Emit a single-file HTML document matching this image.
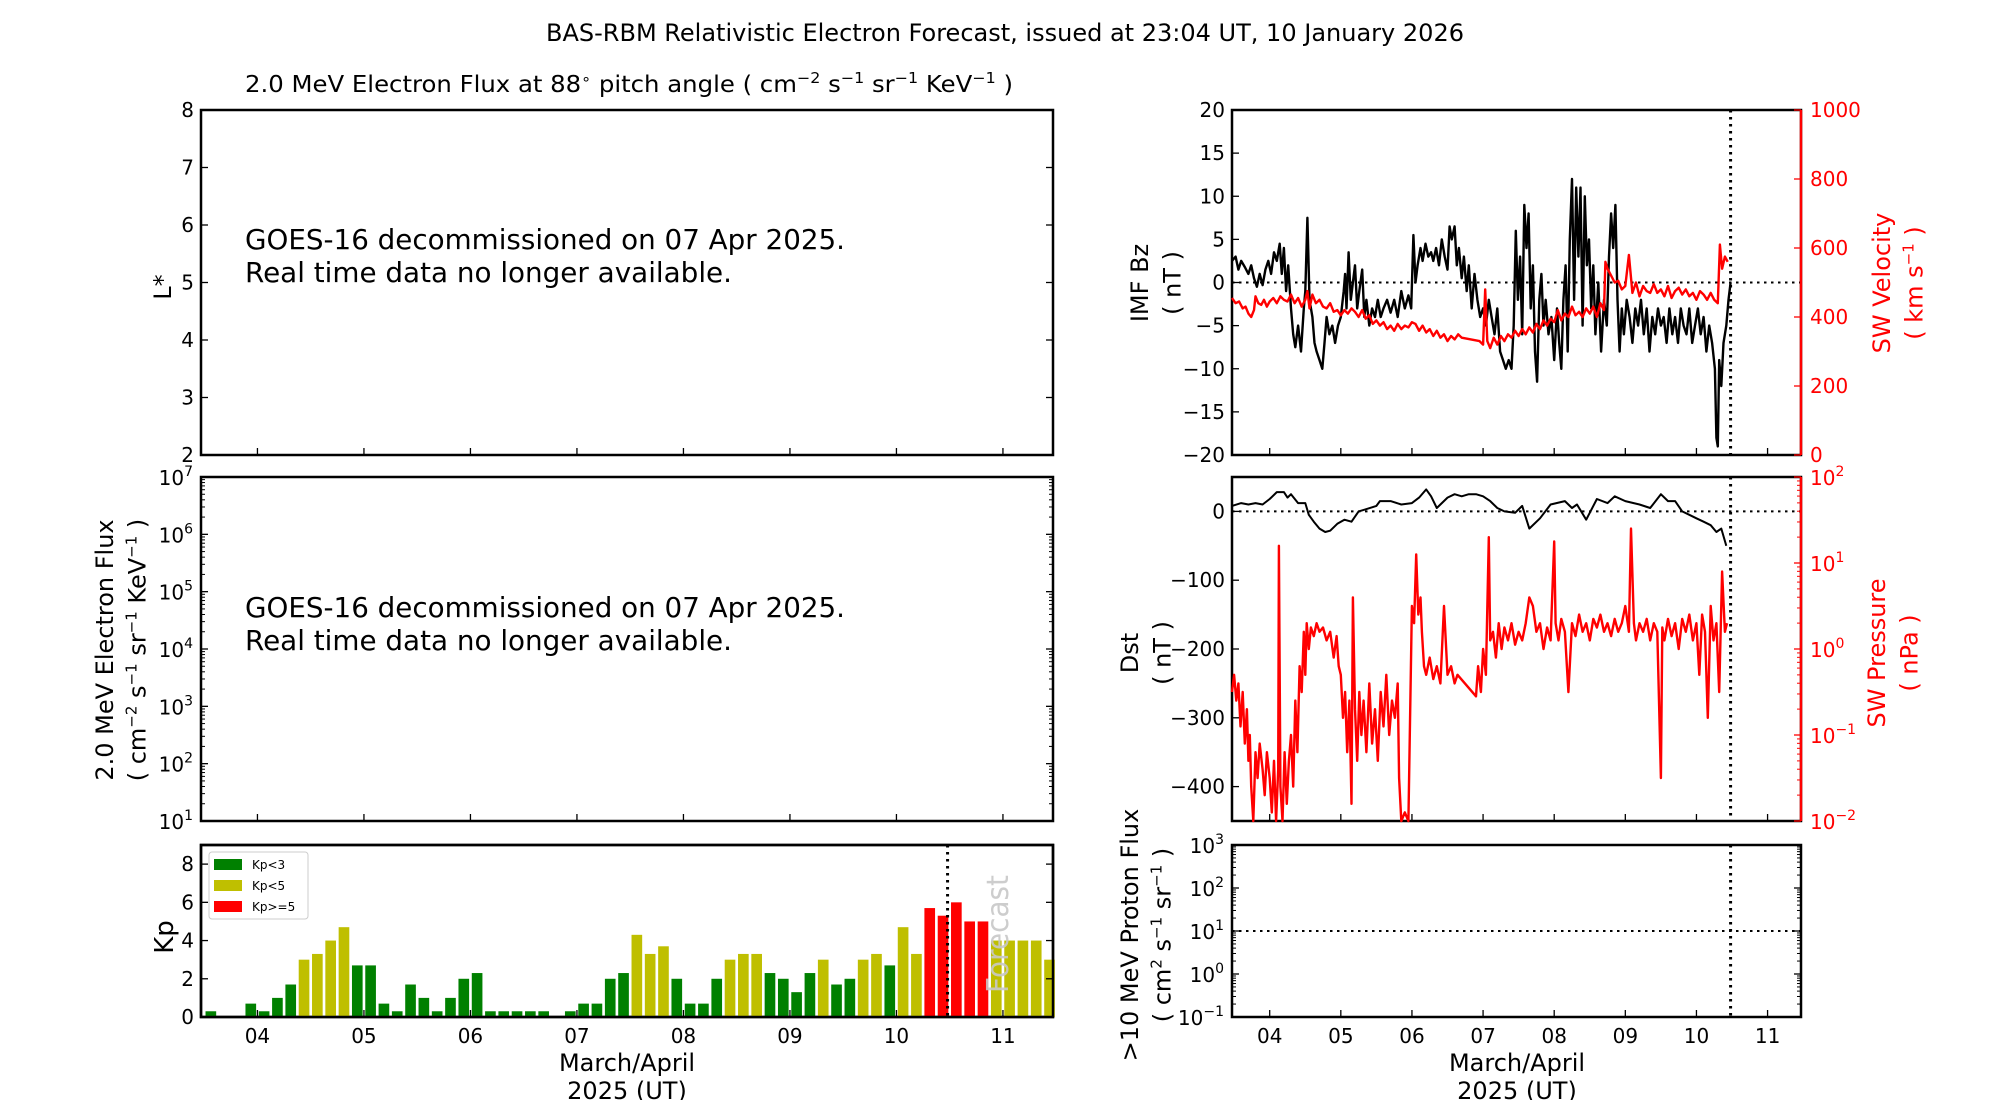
<!DOCTYPE html>
<html><head><meta charset="utf-8"><style>
html,body{margin:0;padding:0;background:#fff;}
svg{display:block;font-family:"DejaVu Sans","Liberation Sans",sans-serif;}
</style></head><body>
<svg id="fig" width="2000" height="1100" viewBox="0 0 2000 1100" xmlns="http://www.w3.org/2000/svg">
<rect width="2000" height="1100" fill="#fff"/>
<text x="1005" y="41" font-size="24" text-anchor="middle" textLength="918" lengthAdjust="spacingAndGlyphs">BAS-RBM Relativistic Electron Forecast, issued at 23:04 UT, 10 January 2026</text>
<text x="245" y="92" font-size="23" textLength="768" lengthAdjust="spacingAndGlyphs">2.0 MeV Electron Flux at 88<tspan dy="-8" font-size="15">∘</tspan><tspan dy="8"> pitch angle ( cm</tspan><tspan dy="-9" font-size="15">−2</tspan><tspan dy="9"> s</tspan><tspan dy="-9" font-size="15">−1</tspan><tspan dy="9"> sr</tspan><tspan dy="-9" font-size="15">−1</tspan><tspan dy="9"> KeV</tspan><tspan dy="-9" font-size="15">−1</tspan><tspan dy="9"> )</tspan></text>
<g id="layer"></g>
</svg>
<script>
// ---- Kp data (3-hour bins starting 3.5) ----
const kpValues = [0.3,0,0,0.7,0.3,1,1.7,3,3.3,4,4.7,2.7,2.7,0.7,0.3,1.7,1,0.3,1,2,2.3,0.3,0.3,0.3,0.3,0.3,0,0.3,0.7,0.7,2,2.3,4.3,3.3,3.7,2,0.7,0.7,2,3,3.3,3.3,2.3,2,1.3,2.3,3,1.7,2,3,3.3,2.7,4.7,3.3,5.7,5.3,6,5,5,4,4,4,4,3];
const kpStart = 3.5;
// ---- IMF Bz ----
const bzTimes = [3.47,3.52,3.56,3.6,3.65,3.7,3.74,3.78,3.82,3.86,3.9,3.94,3.98,4.02,4.06,4.1,4.14,4.17,4.2,4.23,4.26,4.3,4.33,4.36,4.4,4.44,4.48,4.5,4.53,4.56,4.6,4.63,4.66,4.7,4.74,4.77,4.8,4.84,4.88,4.92,4.96,5.0,5.04,5.06,5.08,5.11,5.14,5.17,5.2,5.23,5.26,5.3,5.33,5.36,5.4,5.44,5.48,5.52,5.56,5.6,5.65,5.7,5.75,5.8,5.85,5.9,5.95,5.99,6.02,6.05,6.08,6.12,6.15,6.19,6.23,6.27,6.3,6.34,6.38,6.42,6.46,6.5,6.53,6.56,6.6,6.63,6.66,6.7,6.73,6.77,6.8,6.84,6.88,6.92,6.96,7.0,7.04,7.08,7.12,7.16,7.2,7.24,7.28,7.32,7.36,7.4,7.43,7.46,7.49,7.52,7.55,7.58,7.61,7.64,7.67,7.7,7.73,7.76,7.79,7.82,7.85,7.88,7.92,7.96,8.0,8.04,8.07,8.1,8.13,8.16,8.19,8.22,8.25,8.28,8.31,8.34,8.37,8.4,8.43,8.46,8.49,8.52,8.55,8.58,8.62,8.66,8.7,8.74,8.77,8.8,8.83,8.86,8.89,8.92,8.95,8.98,9.02,9.06,9.1,9.14,9.18,9.22,9.26,9.3,9.34,9.38,9.42,9.46,9.5,9.54,9.58,9.62,9.66,9.7,9.74,9.78,9.82,9.86,9.9,9.94,9.98,10.02,10.06,10.1,10.14,10.18,10.22,10.26,10.28,10.3,10.32,10.35,10.38,10.42,10.45,10.48];
const bzValues = [2.5,3,1.5,2.5,1.8,1,2,0.5,-0.5,1,-0.3,1.5,2.5,1,3.5,2.5,4.5,1,4,-1,2,-3,-6,-7.5,-5,-8,-3,-1,7.5,-2,-4,-7,-8,-9,-10,-7,-4,-6,-5,-7,-5,-4,-1,1,-3,3.5,-2,0,2,-3,-1,1.5,-4,-2,-5,-3,-4,-2,-4,-3,-2,-3.5,-2,-4,-1,-3,-1.5,-3,5.5,0,2,4,2.5,4.5,3,3.5,2.5,4,2,5,3,1.5,6.5,5,6.5,2,4,0.5,3,-1,2,-3,1,-2,-4,-3,-5,-2,-4,-6,-3,-8,-9,-10,-9,-10,-5,6,-2,3,-6,9,4,8,-3,2,-8,-11.5,-2,1,-5,-2,-6,-4,-9,-3,-7,-10,-2,2,-8,5,12,-2,11,3,11,-5,10,2,5,-3,2,-6,0,-8,-2,-5,3,8,4,9,-2,-8,-3,-6,-2,-4,-7,-3,-5,-2,-6,-3,-8,-4,-6,-3,-5,-4,-7,-3,-6,-4,-7,-3,-5,-6,-3,-7,-5,-3,-6,-4,-8,-5,-7,-10,-18,-19,-9,-12,-7,-5,-2,0];
// ---- SW velocity ----
const vTimes = [3.47,3.52,3.57,3.62,3.66,3.7,3.74,3.78,3.8,3.84,3.88,3.92,3.96,4.0,4.05,4.1,4.15,4.2,4.25,4.3,4.35,4.4,4.45,4.5,4.53,4.56,4.6,4.65,4.7,4.75,4.8,4.85,4.9,4.95,5.0,5.05,5.1,5.15,5.2,5.25,5.3,5.35,5.4,5.45,5.5,5.55,5.6,5.65,5.7,5.75,5.8,5.85,5.9,5.95,6.0,6.05,6.1,6.15,6.2,6.25,6.3,6.35,6.4,6.45,6.5,6.55,6.6,6.65,6.7,6.95,7.0,7.03,7.06,7.1,7.15,7.2,7.25,7.3,7.35,7.4,7.45,7.5,7.55,7.6,7.65,7.7,7.75,7.8,7.85,7.9,7.95,8.0,8.05,8.1,8.15,8.2,8.25,8.3,8.35,8.4,8.45,8.5,8.55,8.6,8.65,8.7,8.72,8.75,8.8,8.85,8.9,8.95,9.0,9.05,9.1,9.15,9.2,9.25,9.3,9.35,9.4,9.45,9.5,9.55,9.6,9.65,9.7,9.75,9.8,9.85,9.9,9.95,10.0,10.05,10.1,10.15,10.2,10.25,10.3,10.33,10.36,10.4,10.44,10.48];
const vValues = [455,440,445,425,430,410,400,420,460,440,435,450,430,445,455,440,460,450,445,465,440,455,430,450,475,425,465,440,450,430,425,440,415,420,405,420,410,425,415,400,420,395,405,380,390,375,385,365,375,360,380,365,375,370,385,380,360,375,355,365,345,360,340,350,330,345,335,350,340,330,320,480,330,310,340,320,345,330,350,340,360,345,365,350,370,355,380,365,390,375,395,385,420,390,410,400,430,405,415,400,425,410,430,400,440,420,560,540,520,500,505,480,490,580,470,500,460,490,475,470,495,470,480,460,490,455,475,485,465,480,460,470,450,475,465,450,470,450,440,610,540,575,560];
// ---- Dst ----
const dstTimes = [3.47,3.6,3.7,3.8,3.9,4.0,4.1,4.2,4.25,4.3,4.4,4.5,4.55,4.62,4.7,4.78,4.85,4.95,5.05,5.15,5.25,5.35,5.5,5.55,5.7,5.85,6.0,6.1,6.2,6.27,6.35,6.5,6.6,6.7,6.8,6.9,7.0,7.1,7.2,7.3,7.45,7.55,7.65,7.8,7.95,8.15,8.25,8.32,8.45,8.6,8.75,8.85,9.0,9.2,9.35,9.5,9.6,9.7,9.8,9.9,10.0,10.1,10.2,10.28,10.35,10.42];
const dstValues = [8,12,10,12,10,18,28,28,20,25,12,12,-5,-15,-25,-30,-28,-18,-12,-15,0,3,8,15,15,10,12,20,32,22,5,20,25,22,25,25,22,15,5,0,-2,8,-25,-10,10,15,5,10,-12,18,12,22,15,10,5,25,15,15,0,-5,-10,-15,-20,-30,-25,-50];
// ---- SW pressure (log10 nPa) ----
const pTimes = [3.47,3.5,3.53,3.56,3.59,3.62,3.65,3.68,3.7,3.72,3.74,3.77,3.8,3.83,3.86,3.9,3.93,3.96,4.0,4.03,4.06,4.09,4.12,4.13,4.15,4.18,4.21,4.24,4.27,4.3,4.33,4.36,4.39,4.42,4.45,4.48,4.5,4.52,4.55,4.58,4.62,4.66,4.7,4.75,4.8,4.85,4.9,4.94,4.97,5.0,5.03,5.06,5.09,5.12,5.15,5.17,5.2,5.23,5.26,5.29,5.32,5.36,5.4,5.44,5.48,5.52,5.56,5.6,5.64,5.68,5.72,5.76,5.8,5.82,5.85,5.9,5.95,6.0,6.03,6.06,6.09,6.12,6.14,6.17,6.2,6.25,6.3,6.35,6.4,6.45,6.5,6.55,6.6,6.64,6.9,6.93,6.97,7.0,7.04,7.08,7.1,7.14,7.18,7.22,7.26,7.3,7.35,7.4,7.45,7.5,7.55,7.6,7.65,7.7,7.75,7.8,7.85,7.9,7.95,8.0,8.02,8.06,8.1,8.15,8.2,8.25,8.3,8.35,8.4,8.45,8.5,8.55,8.6,8.65,8.7,8.75,8.8,8.85,8.9,8.95,9.0,9.05,9.08,9.12,9.15,9.2,9.25,9.3,9.35,9.4,9.45,9.5,9.52,9.55,9.6,9.65,9.7,9.75,9.8,9.85,9.9,9.95,10.0,10.04,10.08,10.12,10.16,10.2,10.24,10.28,10.32,10.36,10.4,10.43,10.46];
const pValues = [-0.5,-0.3,-0.6,-0.4,-0.9,-0.5,-1.1,-0.7,-1.3,-1.0,-1.6,-2.0,-1.2,-1.5,-1.1,-1.4,-1.7,-1.2,-1.5,-1.9,-1.3,-2.0,-1.4,1.2,-1.6,-2.0,-1.2,-1.8,-1.3,-1.0,-1.6,-0.6,-1.2,-0.2,-0.5,0.2,-0.3,0.3,0.0,0.25,0.15,0.3,0.2,0.25,0.1,0.2,-0.1,0.15,-0.2,-0.3,-0.8,-0.5,-1.2,-0.6,-1.8,0.6,-0.7,-1.3,-0.5,-1.0,-0.6,-1.2,-0.4,-1.1,-0.7,-1.3,-0.5,-0.9,-0.3,-1.0,-0.6,-0.8,-0.4,-1.5,-2.0,-1.9,-2.0,0.5,0.3,1.1,0.4,0.6,0.2,-0.2,-0.3,-0.1,-0.35,-0.2,-0.4,0.5,-0.3,-0.2,-0.4,-0.3,-0.55,-0.2,-0.5,0.0,-0.3,1.3,0.1,0.2,-0.1,0.3,0.0,0.25,0.1,0.3,0.05,0.2,0.1,0.3,0.6,0.5,0.2,0.3,0.0,0.25,0.1,1.25,0.3,0.1,0.35,0.2,-0.5,0.3,0.15,0.4,0.2,0.3,0.1,0.35,0.25,0.4,0.2,0.3,0.15,0.35,0.2,0.3,0.5,0.2,1.4,0.3,0.1,0.3,0.2,0.35,0.1,0.3,0.2,-1.5,0.25,0.1,0.35,0.15,0.3,0.0,0.35,0.2,0.4,0.1,0.3,-0.3,0.4,0.2,-0.8,0.5,0.1,0.3,-0.5,0.9,0.2,0.3];
// ---- tick labels ----
const dayTicks = [4,5,6,7,8,9,10,11];
const dayLabels = ['04','05','06','07','08','09','10','11'];
const forecastTime = 10.48;

const NS='http://www.w3.org/2000/svg';
const layer=document.getElementById('layer');
function el(tag,attrs,parent,text){const e=document.createElementNS(NS,tag);for(const k in attrs)e.setAttribute(k,attrs[k]);if(text!==undefined)e.textContent=text;(parent||layer).appendChild(e);return e;}
const X0=3.47,X1=11.47;
const LX=[201,1053], RX=[1232,1801];
const P1=[110,455],P2=[477,821],P3=[845,1017];
function xs(px){return d=>px[0]+(d-X0)/(X1-X0)*(px[1]-px[0]);}
function ys(py,lo,hi){return v=>py[1]-(v-lo)/(hi-lo)*(py[1]-py[0]);}

function frame(name,px,py){
  const g=el('g',{});
  
  
  el('rect',{x:px[0],y:py[0],width:px[1]-px[0],height:py[1]-py[0],fill:'none',stroke:'#000','stroke-width':2.5},g);
  return g;
}
function xTicks(g,px,py,labels){
  const x=xs(px);
  dayTicks.forEach((d,i)=>{
    el('line',{x1:x(d),x2:x(d),y1:py[1],y2:py[1]-7,stroke:'#000','stroke-width':1.3},g);
    if(labels){const t=el('text',{x:x(d),y:py[1]+26,'font-size':20,'text-anchor':'middle'},g,dayLabels[i]);
      }
  });
}
function yLinTicks(g,px,py,lo,hi,vals,side,color,both){
  const y=ys(py,lo,hi);
  vals.forEach(v=>{
    const yy=y(v);
    if(side==='left'){
      el('line',{x1:px[0],x2:px[0]+7,y1:yy,y2:yy,stroke:'#000','stroke-width':1.3},g);
      if(both)el('line',{x1:px[1],x2:px[1]-7,y1:yy,y2:yy,stroke:'#000','stroke-width':1.3},g);
      const t=el('text',{x:px[0]-7,y:yy+7,'font-size':20,'text-anchor':'end'},g,String(v).replace('-','−'));
      
    }else{
      el('line',{x1:px[1],x2:px[1]-7,y1:yy,y2:yy,stroke:color,'stroke-width':1.3},g);
      const t=el('text',{x:px[1]+9,y:yy+7,'font-size':20,fill:color},g,String(v));
      
    }
  });
}
function yLogTicks(g,px,py,lo,hi,side,color,both){
  const y=ys(py,lo,hi);
  for(let e=lo;e<=hi;e++){
    const yy=y(e);
    const xa= side==='left'?px[0]:px[1], dir= side==='left'?1:-1;
    el('line',{x1:xa,x2:xa+dir*7,y1:yy,y2:yy,stroke:color,'stroke-width':1.3},g);
    if(both)el('line',{x1:px[1],x2:px[1]-7,y1:yy,y2:yy,stroke:'#000','stroke-width':1.3},g);
    if(e<hi)for(let m=2;m<10;m++){const ym=y(e+Math.log10(m));
      el('line',{x1:xa,x2:xa+dir*4,y1:ym,y2:ym,stroke:color,'stroke-width':1},g);
      if(both)el('line',{x1:px[1],x2:px[1]-4,y1:ym,y2:ym,stroke:'#000','stroke-width':1},g);}
    const t=el('text',{x: side==='left'?xa-8:xa+9,y:yy+8,'font-size':20,'text-anchor':side==='left'?'end':'start',fill:color},g);
    
    el('tspan',{},t,'10');
    el('tspan',{dy:-9,'font-size':14},t,String(e).replace('-','−'));
  }
}
function vlabel(g,x,y,lines,color,size){
  lines.forEach((ln,i)=>{
    const t=el('text',{x:0,y:0,'font-size':size||24,'text-anchor':'middle',fill:color||'#000',transform:`translate(${x+i*(size?size*1.35:32)},${y}) rotate(-90)`},g);
    
    if(typeof ln==='string'){t.textContent=ln;}
    else ln.forEach(p=>{ if(p.sup){el('tspan',{dy:-9,'font-size':15},t,p.sup);} else {el('tspan',{dy:p.after?9:0},t,p.t);} });
  });
}
function polyline(g,xf,yf,ts,vs,color,w,name){
  const pts=ts.map((t,i)=>xf(t).toFixed(1)+','+yf(vs[i]).toFixed(1)).join(' ');
  const p=el('polyline',{points:pts,fill:'none',stroke:color,'stroke-width':w,'stroke-linejoin':'round'},g);
  
  return p;
}
function dotted(g,x1,y1,x2,y2,w){el('line',{x1,y1,x2,y2,stroke:'#000','stroke-width':w||2,'stroke-dasharray':'2.5,4.5'},g);}

// ===== Left panel 1 (L*) =====
let g=frame('lstar-panel',LX,P1);
xTicks(g,LX,P1,false);
yLinTicks(g,LX,P1,2,8,[2,3,4,5,6,7,8],'left','#000',true);
vlabel(g,171,287,['L*'],'#000',24);
{const t=el('text',{x:245,y:249,'font-size':28,textLength:600,lengthAdjust:'spacingAndGlyphs'},g,'GOES-16 decommissioned on 07 Apr 2025.');
 const t2=el('text',{x:245,y:282,'font-size':28,textLength:487,lengthAdjust:'spacingAndGlyphs'},g,'Real time data no longer available.');}

// ===== Left panel 2 (flux) =====
g=frame('electron-flux-panel',LX,P2);
xTicks(g,LX,P2,false);
yLogTicks(g,LX,P2,1,7,'left','#000',true);
vlabel(g,113,650,['2.0 MeV Electron Flux',[{t:'( cm'},{sup:'−2'},{t:' s',after:1},{sup:'−1'},{t:' sr',after:1},{sup:'−1'},{t:' KeV',after:1},{sup:'−1'},{t:' )',after:1}]],'#000',24);
{const t=el('text',{x:245,y:617,'font-size':28,textLength:600,lengthAdjust:'spacingAndGlyphs'},g,'GOES-16 decommissioned on 07 Apr 2025.');
 const t2=el('text',{x:245,y:650,'font-size':28,textLength:487,lengthAdjust:'spacingAndGlyphs'},g,'Real time data no longer available.');}

// ===== Kp panel =====
g=frame('kp-panel',LX,P3);
{
  const x=xs(LX), y=ys(P3,0,9), bw=3/24;
  const bars=el('g',{},g);
  
  kpValues.forEach((v,i)=>{
    if(v<=0)return;
    const c=kpStart+(i+0.5)*bw;
    const col=v<3?'#008000':(v<5?'#bfbf00':'#ff0000');
    const r=el('rect',{x:x(c-bw*0.4),y:y(v),width:x(c+bw*0.4)-x(c-bw*0.4),height:y(0)-y(v),fill:col},bars);
    
    
  });
  const ft=el('text',{x:0,y:0,'font-size':30,fill:'#c8c8c8','fill-opacity':0.9,'text-anchor':'middle',textLength:118,lengthAdjust:'spacingAndGlyphs',transform:`translate(1008,934) rotate(-90)`},g,'Forecast');
  
  dotted(g,x(forecastTime),P3[0],x(forecastTime),P3[1],3);
  el('rect',{x:LX[0],y:P3[0],width:LX[1]-LX[0],height:P3[1]-P3[0],fill:'none',stroke:'#000','stroke-width':2.5},g);
}
xTicks(g,LX,P3,true);
yLinTicks(g,LX,P3,0,9,[0,2,4,6,8],'left','#000',true);
vlabel(g,173,937,['Kp'],'#000',26);
{
  const lg=el('g',{},g);
  el('rect',{x:209,y:852,width:99,height:67,fill:'#fff',stroke:'#ccc','stroke-width':1,rx:3},lg);
  [['#008000','Kp<3'],['#bfbf00','Kp<5'],['#ff0000','Kp>=5']].forEach((e,i)=>{
    const it=el('g',{},lg);
    el('rect',{x:214,y:859+i*21,width:28,height:11,fill:e[0]},it);
    el('text',{x:252,y:869+i*21,'font-size':12},it,e[1]);
  });
}
{const t=el('text',{x:627,y:1071,'font-size':24,'text-anchor':'middle'},layer,'March/April');
 const t2=el('text',{x:627,y:1099,'font-size':24,'text-anchor':'middle'},layer,'2025 (UT)');}

// ===== Right panel 1 (Bz / velocity) =====
g=frame('imf-bz-panel',RX,P1);
{
  const x=xs(RX), yb=ys(P1,-20,20), yv=ys(P1,0,1000);
  dotted(g,RX[0],yb(0),RX[1],yb(0),2);
  polyline(g,x,yb,bzTimes,bzValues,'#000',2.4,'bz-line');
  polyline(g,x,yv,vTimes,vValues,'#ff0000',2.4,'velocity-line');
  dotted(g,x(forecastTime),P1[0],x(forecastTime),P1[1],3);
  el('line',{x1:RX[1],x2:RX[1],y1:P1[0],y2:P1[1],stroke:'#ff0000','stroke-width':2.5},g);
}
xTicks(g,RX,P1,false);
yLinTicks(g,RX,P1,-20,20,[-20,-15,-10,-5,0,5,10,15,20],'left','#000',false);
yLinTicks(g,RX,P1,0,1000,[0,200,400,600,800,1000],'right','#ff0000');
vlabel(g,1148,283,['IMF Bz','( nT )'],'#000',24);
vlabel(g,1890,283,['SW Velocity',[{t:'( km s'},{sup:'−1'},{t:' )',after:1}]],'#ff0000',24);

// ===== Right panel 2 (Dst / pressure) =====
g=frame('dst-panel',RX,P2);
{
  const x=xs(RX), yd=ys(P2,-450,50), yp=ys(P2,-2,2);
  dotted(g,RX[0],yd(0),RX[1],yd(0),2);
  const pc=pValues.map(v=>Math.max(-2,v));
  polyline(g,x,yp,pTimes,pc,'#ff0000',2.4,'pressure-line');
  polyline(g,x,yd,dstTimes,dstValues,'#000',2,'dst-line');
  dotted(g,x(forecastTime),P2[0],x(forecastTime),P2[1],3);
  el('line',{x1:RX[1],x2:RX[1],y1:P2[0],y2:P2[1],stroke:'#ff0000','stroke-width':2.5},g);
}
xTicks(g,RX,P2,false);
yLinTicks(g,RX,P2,-450,50,[-400,-300,-200,-100,0],'left','#000',false);
yLogTicks(g,RX,P2,-2,2,'right','#ff0000',false);
vlabel(g,1138,653,['Dst','( nT )'],'#000',24);
vlabel(g,1885,653,['SW Pressure','( nPa )'],'#ff0000',24);

// ===== Right panel 3 (proton) =====
g=frame('proton-flux-panel',RX,P3);
{
  const x=xs(RX), y=ys(P3,-1,3);
  dotted(g,RX[0],y(1),RX[1],y(1),2);
  dotted(g,x(forecastTime),P3[0],x(forecastTime),P3[1],3);
}
xTicks(g,RX,P3,true);
yLogTicks(g,RX,P3,-1,3,'left','#000',true);
vlabel(g,1138,935,['>10 MeV Proton Flux',[{t:'( cm'},{sup:'2'},{t:' s',after:1},{sup:'−1'},{t:' sr',after:1},{sup:'−1'},{t:' )',after:1}]],'#000',24);
{const t=el('text',{x:1517,y:1071,'font-size':24,'text-anchor':'middle'},layer,'March/April');
 const t2=el('text',{x:1517,y:1099,'font-size':24,'text-anchor':'middle'},layer,'2025 (UT)');}
</script>
</body></html>
